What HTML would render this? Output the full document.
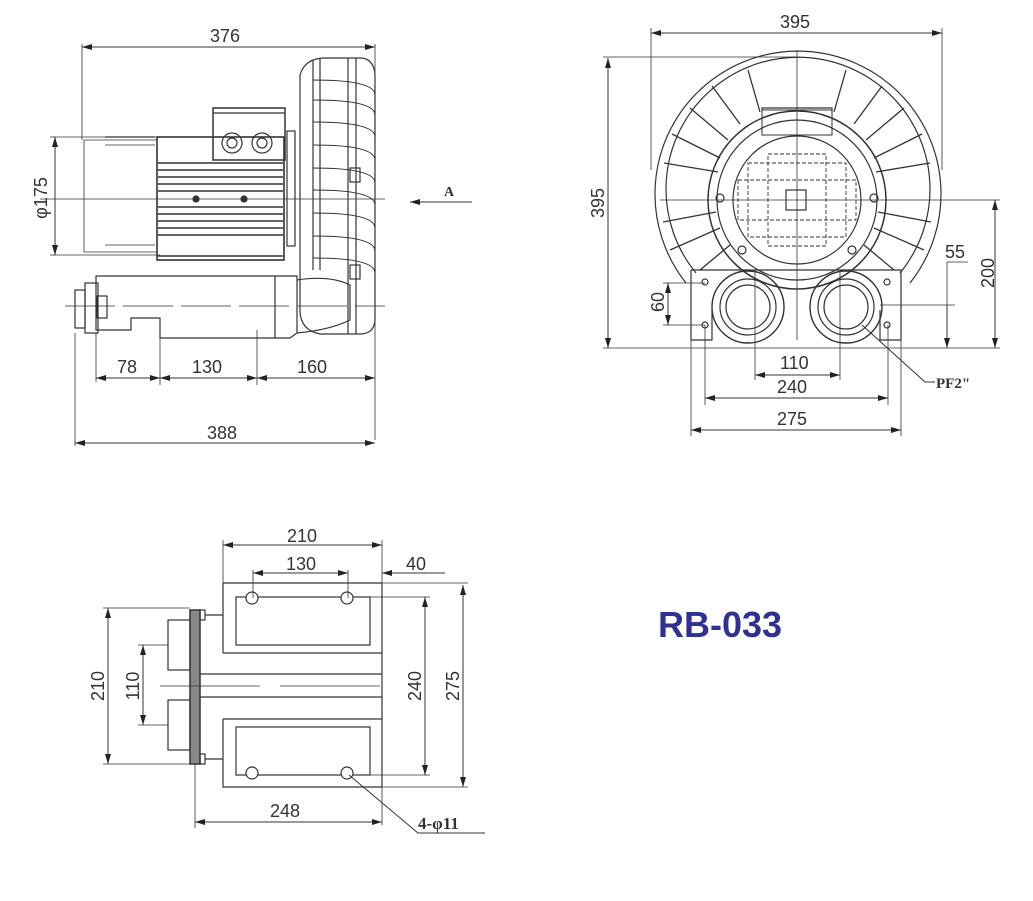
<!DOCTYPE html>
<html><head><meta charset="utf-8"><style>
html,body{margin:0;padding:0;background:#fff;}
svg{display:block;}
text{font-family:"Liberation Sans",sans-serif;fill:#333;}
</style></head><body>
<svg width="1033" height="901" viewBox="0 0 1033 901" xmlns="http://www.w3.org/2000/svg">
<defs>
<marker id="a" viewBox="0 0 10 6" refX="10" refY="3" markerWidth="10" markerHeight="6" orient="auto-start-reverse" markerUnits="userSpaceOnUse"><path d="M0,0L10,3L0,6z" fill="#222"/></marker>
</defs>
<g stroke="#333" fill="none" stroke-width="1.2">
<!-- ===== SIDE VIEW ===== -->
<line x1="82" y1="47" x2="375" y2="47" marker-start="url(#a)" marker-end="url(#a)" stroke-width="1"/>
<line x1="82" y1="44" x2="82" y2="140" stroke-width="0.8"/>
<line x1="375" y1="44" x2="375" y2="440" stroke-width="0.8"/>
<!-- phi175 -->
<line x1="55" y1="137" x2="55" y2="255" marker-start="url(#a)" marker-end="url(#a)" stroke-width="1"/>
<line x1="50" y1="137" x2="160" y2="137" stroke-width="0.8"/>
<line x1="50" y1="255" x2="160" y2="255" stroke-width="0.8"/>
<!-- left cylinder -->
<path d="M84 140 L157 140 L157 252 L84 252 Z" stroke-width="0.8"/>
<line x1="105" y1="137" x2="155" y2="137"/>
<line x1="105" y1="145" x2="155" y2="145" stroke-width="0.8"/>
<line x1="105" y1="245" x2="155" y2="245" stroke-width="0.8"/>
<!-- motor -->
<rect x="157" y="137" width="127" height="123" stroke-width="1.6"/>
<g stroke-width="1.5">
<line x1="158" y1="163" x2="283" y2="163"/><line x1="158" y1="170" x2="283" y2="170"/>
<line x1="158" y1="177" x2="283" y2="177"/><line x1="158" y1="184" x2="283" y2="184"/>
<line x1="158" y1="191" x2="283" y2="191"/><line x1="158" y1="207" x2="283" y2="207"/>
<line x1="158" y1="214" x2="283" y2="214"/><line x1="158" y1="221" x2="283" y2="221"/>
<line x1="158" y1="228" x2="283" y2="228"/><line x1="158" y1="235" x2="283" y2="235"/>
<line x1="158" y1="256" x2="283" y2="256"/>
</g>
<circle cx="196" cy="199" r="3" fill="#333"/><circle cx="244" cy="199" r="3" fill="#333"/>
<!-- terminal box -->
<rect x="213" y="108" width="72" height="52" stroke-width="1.5"/>
<line x1="213" y1="113" x2="285" y2="113"/>
<circle cx="232" cy="143" r="10"/><circle cx="232" cy="143" r="5"/>
<circle cx="262" cy="143" r="10"/><circle cx="262" cy="143" r="5"/>
<!-- flange plate -->
<rect x="287" y="131" width="8" height="115"/>
<!-- fan housing -->
<path d="M300 75 Q305 58 325 58 L362 58 Q376 60 375 80 L375 320 Q374 334 360 334 L320 334 Q300 330 300 310 Z"/>
<line x1="348" y1="58" x2="348" y2="334"/><line x1="356" y1="58" x2="356" y2="334"/>
<line x1="313" y1="60" x2="313" y2="270"/><line x1="320" y1="58" x2="320" y2="270"/>
<g stroke-width="1">
<path d="M313 80 Q375 80 375 95"/><path d="M313 100 Q375 100 375 115"/>
<path d="M313 122 Q375 122 375 137"/><path d="M313 145 Q375 145 375 160"/>
<path d="M313 168 Q375 168 375 183"/><path d="M313 190 Q375 190 375 205"/>
<path d="M313 213 Q375 213 375 228"/><path d="M313 236 Q375 236 375 251"/>
<path d="M313 258 Q375 258 375 273"/>
</g>
<rect x="350" y="168" width="10" height="14"/><rect x="350" y="265" width="10" height="14"/>
<!-- lower housing -->
<path d="M96 276 L297 276 L297 333 L290 338 L160 338 L160 318 L131 318 L131 330 L96 330 Z"/>
<rect x="85" y="283" width="13" height="50"/>
<rect x="75" y="290" width="10" height="38"/>
<rect x="97" y="296" width="10" height="22"/>
<line x1="275" y1="276" x2="275" y2="338"/>
<path d="M297 280 Q330 275 350 285 L350 320 Q330 330 297 333"/>
<!-- centerlines -->
<line x1="40" y1="199" x2="385" y2="199" stroke-width="0.7"/>
<line x1="65" y1="306" x2="385" y2="306" stroke-width="0.7" stroke-dasharray="50 8"/>
<!-- A arrow -->
<line x1="410" y1="202" x2="472" y2="202" marker-start="url(#a)" stroke-width="1"/>
<!-- bottom dims -->
<line x1="96" y1="333" x2="96" y2="382" stroke-width="0.8"/>
<line x1="160" y1="330" x2="160" y2="385" stroke-width="0.8"/>
<line x1="257" y1="330" x2="257" y2="385" stroke-width="0.8"/>
<line x1="96" y1="378" x2="160" y2="378" marker-start="url(#a)" marker-end="url(#a)" stroke-width="1"/>
<line x1="160" y1="378" x2="257" y2="378" marker-start="url(#a)" marker-end="url(#a)" stroke-width="1"/>
<line x1="257" y1="378" x2="375" y2="378" marker-start="url(#a)" marker-end="url(#a)" stroke-width="1"/>
<line x1="75" y1="333" x2="75" y2="446" stroke-width="0.8"/>
<line x1="75" y1="443" x2="375" y2="443" marker-start="url(#a)" marker-end="url(#a)" stroke-width="1"/>

<!-- ===== FRONT VIEW ===== -->
<line x1="651" y1="33" x2="942" y2="33" marker-start="url(#a)" marker-end="url(#a)" stroke-width="1"/>
<line x1="651" y1="28" x2="651" y2="170" stroke-width="0.8"/>
<line x1="942" y1="28" x2="942" y2="170" stroke-width="0.8"/>
<line x1="608" y1="58" x2="608" y2="348" marker-start="url(#a)" marker-end="url(#a)" stroke-width="1"/>
<line x1="603" y1="57" x2="800" y2="57" stroke-width="0.8"/>
<line x1="603" y1="348" x2="1000" y2="348" stroke-width="0.8"/>
<path d="M686 283 A143 143 0 1 1 910 283"/>
<path d="M696 273 A132 132 0 1 1 900 273"/>
<circle cx="797" cy="200" r="89" stroke-width="1.5"/>
<circle cx="797" cy="200" r="80"/>
<circle cx="797" cy="200" r="64"/>
<g stroke-width="1.3">
<line x1="718" y1="172" x2="664" y2="163"/><line x1="720" y1="158" x2="672" y2="134"/>
<line x1="728" y1="140" x2="690" y2="108"/><line x1="740" y1="124" x2="712" y2="86"/>
<line x1="760" y1="112" x2="748" y2="70"/>
<line x1="876" y1="172" x2="930" y2="163"/><line x1="874" y1="158" x2="922" y2="134"/>
<line x1="866" y1="140" x2="904" y2="108"/><line x1="854" y1="124" x2="882" y2="86"/>
<line x1="834" y1="112" x2="846" y2="70"/>
<line x1="716" y1="212" x2="663" y2="222"/><line x1="720" y1="228" x2="670" y2="250"/>
<line x1="878" y1="212" x2="931" y2="222"/><line x1="874" y1="228" x2="924" y2="250"/>
<line x1="730" y1="245" x2="700" y2="270"/><line x1="864" y1="245" x2="894" y2="270"/>
</g>
<path d="M762 111 L762 108 L832 108 L832 111"/>
<rect x="762" y="110" width="70" height="25" stroke-width="1"/>
<!-- grid -->
<g stroke-width="0.9">
<rect x="768" y="154" width="58" height="92" stroke-dasharray="4 2"/>
<rect x="748" y="163" width="98" height="74" stroke-dasharray="4 2"/>
<rect x="738" y="180" width="118" height="40" stroke-dasharray="4 2"/>
</g>
<rect x="786" y="190" width="20" height="20"/>
<line x1="660" y1="200" x2="1000" y2="200" stroke-width="0.8"/>
<line x1="797" y1="50" x2="797" y2="340" stroke-width="0.8"/>
<circle cx="742" cy="250" r="4"/><circle cx="852" cy="250" r="4"/>
<circle cx="720" cy="198" r="4"/><circle cx="874" cy="198" r="4"/>
<!-- base -->
<path d="M691 270 L901 270 L901 340 L880 340 L880 310 M691 270 L691 340 L712 340 L712 310"/>
<circle cx="748" cy="307" r="36" stroke-width="1.4"/>
<circle cx="748" cy="307" r="28"/><circle cx="748" cy="307" r="22"/>
<circle cx="846" cy="307" r="36" stroke-width="1.4"/>
<circle cx="846" cy="307" r="28"/><circle cx="846" cy="307" r="22"/>
<circle cx="705" cy="282" r="3"/><circle cx="705" cy="325" r="3"/>
<circle cx="887" cy="282" r="3"/><circle cx="887" cy="325" r="3"/>
<!-- front dims -->
<line x1="995" y1="200" x2="995" y2="348" marker-start="url(#a)" marker-end="url(#a)" stroke-width="1"/>
<line x1="947" y1="305" x2="947" y2="348" marker-end="url(#a)" stroke-width="1"/>
<line x1="947" y1="262" x2="947" y2="305" stroke-width="0.8"/>
<line x1="947" y1="262" x2="968" y2="262" stroke-width="0.8"/>
<line x1="880" y1="305" x2="955" y2="305" stroke-width="0.8"/>
<line x1="668" y1="283" x2="668" y2="325" marker-start="url(#a)" marker-end="url(#a)" stroke-width="1"/>
<line x1="663" y1="283" x2="705" y2="283" stroke-width="0.8"/>
<line x1="663" y1="325" x2="705" y2="325" stroke-width="0.8"/>
<line x1="755" y1="270" x2="755" y2="380" stroke-width="0.8"/>
<line x1="840" y1="270" x2="840" y2="380" stroke-width="0.8"/>
<line x1="755" y1="375" x2="840" y2="375" marker-start="url(#a)" marker-end="url(#a)" stroke-width="1"/>
<line x1="705" y1="325" x2="705" y2="405" stroke-width="0.8"/>
<line x1="888" y1="325" x2="888" y2="405" stroke-width="0.8"/>
<line x1="705" y1="398" x2="888" y2="398" marker-start="url(#a)" marker-end="url(#a)" stroke-width="1"/>
<line x1="691" y1="340" x2="691" y2="436" stroke-width="0.8"/>
<line x1="901" y1="340" x2="901" y2="436" stroke-width="0.8"/>
<line x1="691" y1="430" x2="901" y2="430" marker-start="url(#a)" marker-end="url(#a)" stroke-width="1"/>
<polyline points="862,325 925,382 935,382" stroke-width="1"/>

<!-- ===== BOTTOM VIEW ===== -->
<path d="M223 653 L223 583 L382 583 L382 787 L223 787 L223 719 M382 653 L223 653 M382 719 L223 719" />
<rect x="236" y="597" width="134" height="48"/>
<rect x="236" y="727" width="134" height="48"/>
<circle cx="252" cy="598" r="6" fill="#fff"/><circle cx="347" cy="598" r="6" fill="#fff"/>
<circle cx="252" cy="773" r="6" fill="#fff"/><circle cx="347" cy="773" r="6" fill="#fff"/>
<rect x="190" y="610" width="10" height="154" stroke-width="1.5" fill="#888"/>
<rect x="200" y="610" width="5" height="10"/><rect x="200" y="754" width="5" height="10"/>
<line x1="205" y1="615" x2="223" y2="615"/><line x1="205" y1="759" x2="223" y2="759"/>
<rect x="168" y="620" width="22" height="50"/><rect x="168" y="700" width="22" height="50"/>
<line x1="200" y1="674" x2="382" y2="674"/><line x1="200" y1="697" x2="382" y2="697"/>
<line x1="160" y1="686" x2="390" y2="686" stroke-dasharray="100 20" stroke-width="0.8"/>
<line x1="223" y1="545" x2="382" y2="545" marker-start="url(#a)" marker-end="url(#a)" stroke-width="1"/>
<line x1="223" y1="540" x2="223" y2="583" stroke-width="0.8"/>
<line x1="382" y1="540" x2="382" y2="825" stroke-width="0.8"/>
<line x1="253" y1="573" x2="348" y2="573" marker-start="url(#a)" marker-end="url(#a)" stroke-width="1"/>
<line x1="253" y1="570" x2="253" y2="598" stroke-width="0.8"/>
<line x1="348" y1="570" x2="348" y2="598" stroke-width="0.8"/>
<line x1="382" y1="573" x2="445" y2="573" marker-start="url(#a)" stroke-width="1"/>
<line x1="108" y1="608" x2="108" y2="764" marker-start="url(#a)" marker-end="url(#a)" stroke-width="1"/>
<line x1="103" y1="608" x2="190" y2="608" stroke-width="0.8"/>
<line x1="103" y1="764" x2="190" y2="764" stroke-width="0.8"/>
<line x1="143" y1="645" x2="143" y2="725" marker-start="url(#a)" marker-end="url(#a)" stroke-width="1"/>
<line x1="138" y1="645" x2="168" y2="645" stroke-width="0.8"/>
<line x1="138" y1="725" x2="168" y2="725" stroke-width="0.8"/>
<line x1="425" y1="597" x2="425" y2="775" marker-start="url(#a)" marker-end="url(#a)" stroke-width="1"/>
<line x1="370" y1="597" x2="430" y2="597" stroke-width="0.8"/>
<line x1="355" y1="775" x2="430" y2="775" stroke-width="0.8"/>
<line x1="463" y1="585" x2="463" y2="787" marker-start="url(#a)" marker-end="url(#a)" stroke-width="1"/>
<line x1="382" y1="583" x2="468" y2="583" stroke-width="0.8"/>
<line x1="382" y1="787" x2="468" y2="787" stroke-width="0.8"/>
<line x1="195" y1="764" x2="195" y2="828" stroke-width="0.8"/>
<line x1="195" y1="822" x2="382" y2="822" marker-start="url(#a)" marker-end="url(#a)" stroke-width="1"/>
<polyline points="349,775 418,833 485,833" stroke-width="1"/>
</g>
<!-- text -->
<g font-size="18">
<text x="210" y="42">376</text>
<text x="47" y="198" transform="rotate(-90 47 198)" text-anchor="middle">φ175</text>
<text x="117" y="373">78</text><text x="192" y="373">130</text><text x="297" y="373">160</text>
<text x="207" y="439">388</text>
<text x="780" y="28">395</text>
<text x="604" y="203" transform="rotate(-90 604 203)" text-anchor="middle">395</text>
<text x="994" y="273" transform="rotate(-90 994 273)" text-anchor="middle">200</text>
<text x="945" y="258">55</text>
<text x="664" y="302" transform="rotate(-90 664 302)" text-anchor="middle">60</text>
<text x="780" y="369">110</text><text x="777" y="393">240</text><text x="777" y="425">275</text>
<text x="287" y="542">210</text><text x="286" y="570">130</text><text x="406" y="570">40</text>
<text x="104" y="686" transform="rotate(-90 104 686)" text-anchor="middle">210</text>
<text x="139" y="686" transform="rotate(-90 139 686)" text-anchor="middle">110</text>
<text x="421" y="686" transform="rotate(-90 421 686)" text-anchor="middle">240</text>
<text x="459" y="686" transform="rotate(-90 459 686)" text-anchor="middle">275</text>
<text x="270" y="817">248</text>
</g>
<text x="444" y="196" font-size="14" font-weight="bold" style="font-family:'Liberation Serif',serif">A</text>
<text x="936" y="388" font-size="15" font-weight="bold" style="font-family:'Liberation Serif',serif">PF2"</text>
<text x="418" y="829" font-size="17" font-weight="bold" style="font-family:'Liberation Serif',serif">4-φ11</text>
<text x="658" y="637" font-size="36" font-weight="bold" style="fill:#2e3192">RB-033</text>
</svg>
</body></html>
